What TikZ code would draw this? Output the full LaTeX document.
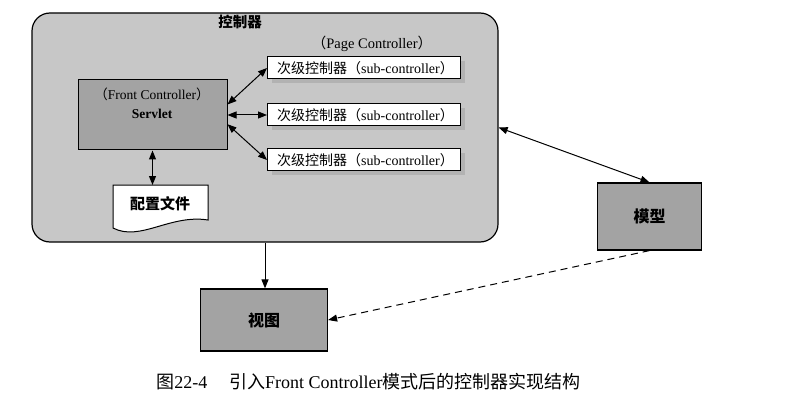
\documentclass[tikz,border=0pt]{standalone}
\usepackage{fontspec}
\setmainfont{Liberation Serif}
\newfontfamily\cjk{Noto Sans CJK SC}
\usetikzlibrary{arrows.meta, shadows}
\definecolor{darkshade}{rgb}{0.64,0.64,0.64}
\definecolor{lightshade}{rgb}{0.78,0.78,0.78}

\begin{document}
\begin{tikzpicture}[x=1pt, y=-1pt, >={Triangle[length=9pt, width=7pt]},
    box/.style={draw, line width=1.2pt, fill=darkshade,
        font=\cjk\bfseries\fontsize{16}{18}\selectfont},
    subbox/.style={draw, line width=1pt, fill=white, minimum width=193pt,
        minimum height=22pt, inner sep=0pt,
        drop shadow={shadow xshift=4pt, shadow yshift=-4pt, fill=gray!60, opacity=1},
        font=\fontsize{14}{16}\selectfont},
    link/.style={line width=1pt}]
    \useasboundingbox (0,0) rectangle (786,406);
    % controller frame
    \node[draw, line width=1.2pt, fill=lightshade, rounded corners=18pt,
        minimum width=466pt, minimum height=229pt] (ctrl) at (265,127.5) {};
    \node[font=\cjk\bfseries\fontsize{14.5}{16}\selectfont] (ctrltitle) at (240,22) {控制器};
    \node[font=\fontsize{14.5}{16}\selectfont] (pagectrl) at (372,44)
        {{\cjk （}Page Controller{\cjk ）}};
    % front controller
    \node[draw, line width=1pt, fill=darkshade, minimum width=149pt,
        minimum height=70pt] (servlet) at (152.5,115) {};
    \node[align=center, font=\fontsize{13.5}{15}\selectfont] (servlettext) at (152,103)
        {{\cjk （}Front Controller{\cjk ）}\\[4pt] \textbf{Servlet}};
    % page controllers
    \foreach \i/\y in {1/68, 2/115, 3/160}
        \node[subbox] (sub\i) at (364,\y) {\hspace{3pt}{\cjk 次级控制器（}sub-controller{\cjk ）}};
    \draw[<->, link] (servlet.8) -- (sub1.west);
    \draw[<->, link] (servlet.east) -- (sub2.west);
    \draw[<->, link] (servlet.-7) -- (sub3.west);
    % config file
    \coordinate (confNW) at (113,185);
    \coordinate (confNE) at (208,185);
    \coordinate (confSE) at (208,220);
    \coordinate (confSW) at (113,228);
    \draw[line width=1pt, fill=white] (confNW) -- (confNE) -- (confSE)
        .. controls +(-38,-6) and +(27,14) .. (confSW) -- cycle;
    \node[font=\cjk\bfseries\fontsize{15}{17}\selectfont] (conf) at (160,204) {配置文件};
    \draw[<->, link] (servlet.south) -- (servlet.south |- confNW);
    % view and model
    \node[box, minimum width=127pt, minimum height=62pt] (view) at (264,320) {视图};
    \node[box, minimum width=104pt, minimum height=67pt] (model) at (649.5,216.5) {模型};
    \draw[->, link] (ctrl.south) -- (ctrl.south |- view.north);
    \draw[<->, link] (ctrl.east) -- (model.north);
    \draw[->, link, dash pattern=on 7pt off 5pt] (model.south) -- (view.east);
    % caption
    \node[font=\fontsize{18}{20}\selectfont] (caption) at (368.5,382)
        {{\cjk 图}22-4\hspace{1.2em}{\cjk 引入}Front Controller{\cjk 模式后的控制器实现结构}};
\end{tikzpicture}
\end{document}
